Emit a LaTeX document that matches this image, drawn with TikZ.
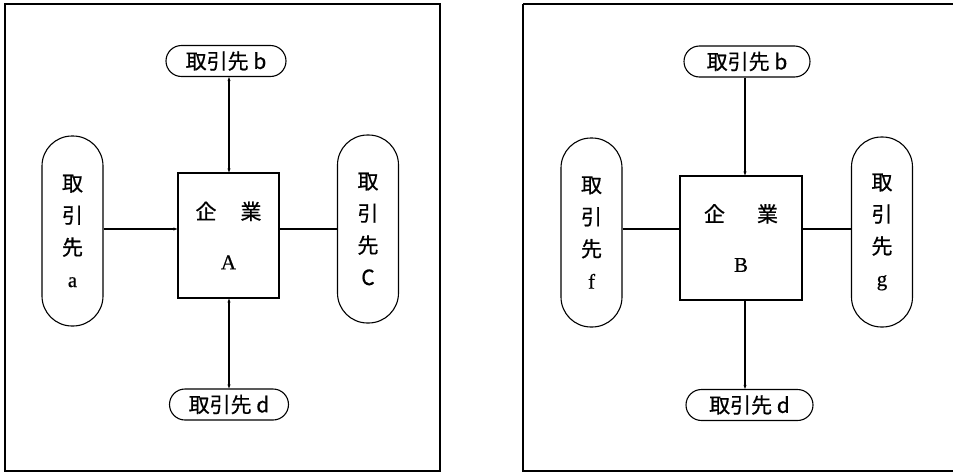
\documentclass[tikz,border=0pt]{standalone}
\usepackage{fontspec}
\newfontfamily\jp[FakeBold=0.6]{Noto Sans CJK JP}
\newfontfamily\ser[FakeBold=0.6]{Liberation Serif}
\newcommand\latn[1]{{\ser\fontsize{21}{20}\selectfont #1}}
\usetikzlibrary{arrows.meta}
\tikzset{
  frame/.style={draw, line width=1.1pt},
  hcap/.style={draw, line width=1.1pt, rounded corners=15.5pt, minimum width=#1, minimum height=31pt, inner sep=0pt, font=\jp\fontsize{21}{22}\selectfont},
  vcap/.style={draw, line width=1.1pt, rounded corners=30pt, minimum width=61pt, minimum height=#1, inner sep=0pt, align=center, font=\jp\fontsize{21}{32}\selectfont},
  firm/.style={draw, line width=1.1pt, inner sep=0pt, align=center, font=\jp\fontsize{21}{50}\selectfont},
  conn/.style={line width=1.1pt},
  tip/.style={-{Stealth[length=4pt,width=3pt]}},
  tips/.style={{Stealth[length=4pt,width=3pt]}-{Stealth[length=4pt,width=3pt]}}
}
\begin{document}
\begin{tikzpicture}[x=1pt,y=-1pt]
\useasboundingbox (0,0) rectangle (954,474);
% frames
\draw[frame] (5,4) rectangle (440,471);
\draw[frame] (523,4) -- (953,4);
\draw[frame] (523,4) -- (523,471) -- (953,471);
% left diagram
\node[firm, minimum width=101pt, minimum height=125pt] (A) at (228.5,235.5) {企\hspace{24pt}業\\\latn{A}};
\node[hcap=120pt] (b1) at (226,61) {取引先 b};
\node[hcap=119pt] (d1) at (229,404.5) {取引先 d};
\node[vcap=190pt] (a) at (72.5,231) {取\\引\\先\\\latn{a}};
\node[vcap=188pt] (c) at (368,229) {取\\引\\先\\C};
\draw[conn, tip] (a.east |- 0,229) -- (A.west |- 0,229);
\draw[conn] (A.east |- 0,229) -- (c.west |- 0,229);
\draw[conn, tips] (b1.south -| 229,0) -- (A.north -| 229,0);
\draw[conn, tips] (A.south -| 229,0) -- (d1.north -| 229,0);
% right diagram
\node[firm, minimum width=122pt, minimum height=124pt] (B) at (741,238) {企\hspace{32pt}業\\\latn{B}};
\node[hcap=126pt] (b2) at (747,61.5) {取引先 b};
\node[hcap=127pt] (d2) at (749.5,405) {取引先 d};
\node[vcap=189pt] (f) at (591.5,232.5) {取\\引\\先\\\latn{f}};
\node[vcap=190pt] (g) at (882,232) {取\\引\\先\\\latn{g}};
\draw[conn] (f.east |- 0,229) -- (B.west |- 0,229);
\draw[conn] (B.east |- 0,229) -- (g.west |- 0,229);
\draw[conn, tip] (b2.south -| 745,0) -- (B.north -| 745,0);
\draw[conn, tip] (B.south -| 745,0) -- (d2.north -| 745,0);
\end{tikzpicture}
\end{document}
